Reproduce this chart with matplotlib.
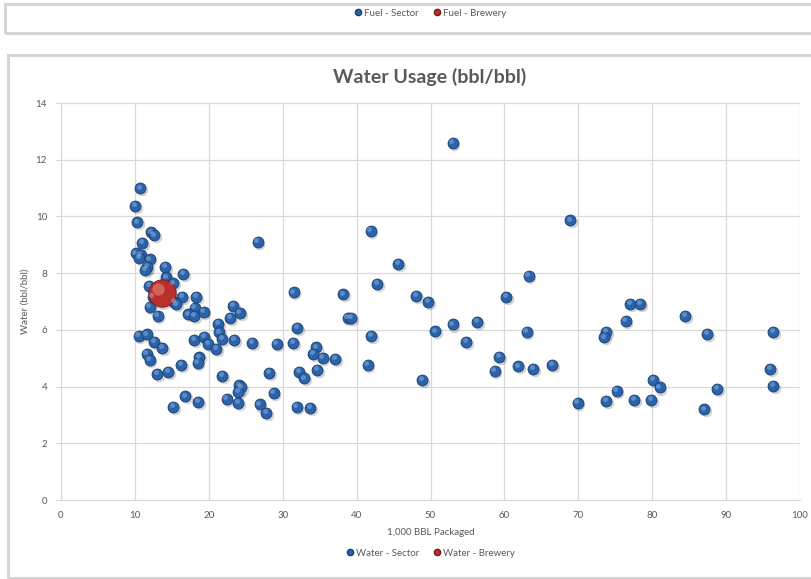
import matplotlib
matplotlib.use('Agg')
import matplotlib.pyplot as plt
from matplotlib.lines import Line2D
from matplotlib.patches import Rectangle
from matplotlib.transforms import offset_copy

plt.rcParams['font.family'] = ['Lato', 'DejaVu Sans']

# Water - Sector points (1,000 BBL packaged, bbl/bbl)
sector_x = [10.7, 10.0, 10.3, 12.2, 12.6, 11.0, 10.1, 10.8, 10.6, 12.0,
            11.7, 11.4, 14.1, 16.5, 14.2, 15.2, 11.9, 16.4, 18.3, 15.3,
            15.6, 12.0, 18.1, 23.3, 24.2, 17.2, 18.0, 19.3, 13.1, 22.9,
            21.3, 26.6, 12.4, 21.4, 21.8, 10.5, 11.6, 12.6, 13.7, 18.0,
            19.4, 19.9, 21.0, 23.4, 25.9, 11.6, 12.0, 16.3, 18.7, 18.5,
            13.0, 14.5, 21.8, 24.1, 24.4, 24.0, 16.8, 15.2, 18.6, 22.4,
            24.0, 26.9, 29.2, 31.4, 32.0, 38.8, 39.3, 42.0, 34.5, 34.1,
            35.4, 37.1, 41.5, 32.2, 32.9, 34.7, 28.2, 28.8, 27.8, 31.9,
            33.7, 31.5, 41.9, 42.8, 45.6, 38.2, 53.0, 68.9, 48.1, 49.7,
            63.3, 60.2, 50.6, 53.0, 56.3, 63.0, 54.8, 59.3, 58.7, 48.9,
            61.9, 63.9, 66.5, 69.9, 77.0, 78.4, 76.4, 84.5, 73.8, 73.5,
            87.4, 96.4, 96.0, 96.4, 80.1, 81.0, 88.8, 75.2, 73.8, 77.6,
            79.9, 87.0]
sector_y = [10.99, 10.38, 9.79, 9.44, 9.34, 9.07, 8.70, 8.64, 8.54, 8.49,
            8.23, 8.11, 8.23, 7.98, 7.85, 7.64, 7.55, 7.17, 7.17, 6.99,
            6.90, 6.82, 6.78, 6.85, 6.60, 6.55, 6.49, 6.64, 6.50, 6.43,
            6.21, 9.11, 7.17, 5.91, 5.68, 5.79, 5.84, 5.58, 5.37, 5.64,
            5.76, 5.51, 5.32, 5.64, 5.55, 5.15, 4.94, 4.76, 5.03, 4.84,
            4.44, 4.51, 4.37, 4.05, 3.97, 3.82, 3.66, 3.28, 3.47, 3.56,
            3.42, 3.37, 5.51, 5.55, 6.08, 6.43, 6.43, 5.79, 5.38, 5.15,
            5.01, 4.97, 4.76, 4.52, 4.29, 4.58, 4.49, 3.77, 3.07, 3.28,
            3.24, 7.33, 9.49, 7.62, 8.34, 7.25, 12.60, 9.86, 7.20, 6.98,
            7.91, 7.17, 5.95, 6.19, 6.29, 5.92, 5.57, 5.04, 4.55, 4.23,
            4.72, 4.62, 4.76, 3.42, 6.91, 6.91, 6.31, 6.49, 5.93, 5.74,
            5.85, 5.93, 4.62, 4.02, 4.23, 3.97, 3.91, 3.85, 3.49, 3.53,
            3.53, 3.20]

# Water - Brewery point
brewery_x = [13.6]
brewery_y = [7.29]

x_ticks = [0, 10, 20, 30, 40, 50, 60, 70, 80, 90, 100]
y_ticks = [0, 2, 4, 6, 8, 10, 12, 14]

blue = '#2B63AA'
red = '#B8302B'
grey_txt = '#595959'
grid_c = '#D9D9D9'

W, H = 811, 579
fig = plt.figure(figsize=(W / 100, H / 100), dpi=100)
fig.patch.set_facecolor('white')

# panel frames (previous chart bottom + this chart)
fig.add_artist(Rectangle((5 / W, 1 - 33 / H), 1.0, 29 / H, transform=fig.transFigure,
                         fill=False, edgecolor='#D4D4D4', lw=2.2))
fig.add_artist(Rectangle((8 / W, 1 - 578 / H), 1.0, 523 / H, transform=fig.transFigure,
                         fill=False, edgecolor='#D4D4D4', lw=2.2))

ax = fig.add_axes([61 / W, 1 - 500 / H, 739 / W, 397 / H])


def spheres(x, y, s, base, dark, light):
    # soft shadow, body, highlight -> rough 3D bead look
    sh = offset_copy(ax.transData, fig=fig, x=1.2, y=-1.5, units='points')
    ax.scatter(x, y, s=s * 1.1, color='#000000', alpha=0.18, lw=0, transform=sh, zorder=3)
    ax.scatter(x, y, s=s, color=base, edgecolors=dark, linewidths=0.6, zorder=4)
    hl = offset_copy(ax.transData, fig=fig, x=-0.25 * (s ** 0.5) / 2, y=0.3 * (s ** 0.5) / 2, units='points')
    ax.scatter(x, y, s=s * 0.2, color=light, alpha=0.45, lw=0, transform=hl, zorder=5)


spheres(sector_x, sector_y, 62, blue, '#1A3F70', '#9CC0EE')
spheres(brewery_x, brewery_y, 390, red, '#7A1A17', '#F0A09A')

ax.set_xlim(0, 100)
ax.set_ylim(0, 14)
ax.set_xticks(x_ticks)
ax.set_yticks(y_ticks)
ax.grid(True, color=grid_c, lw=0.9)
ax.set_axisbelow(True)
for side in ['top', 'right']:
    ax.spines[side].set_visible(False)
for side in ['left', 'bottom']:
    ax.spines[side].set_color(grid_c)
ax.tick_params(colors=grey_txt, labelsize=7, length=0, pad=8)
ax.tick_params(axis='y', length=4, color=grid_c, pad=6)

ax.set_xlabel('1,000 BBL Packaged', fontsize=7, color=grey_txt, labelpad=6)
ax.set_ylabel('Water (bbl/bbl)', fontsize=7, color=grey_txt)
ax.yaxis.set_label_coords(-0.042, 0.5)

fig.text(430 / W, 1 - 77 / H, 'Water Usage (bbl/bbl)', ha='center', va='center',
         fontsize=14, fontweight='bold', color=grey_txt)


def legend_handles(names):
    return [Line2D([], [], ls='none', marker='o', ms=4.5, color=blue, mec='#1A3F70', label=names[0]),
            Line2D([], [], ls='none', marker='o', ms=4.5, color=red, mec='#7A1A17', label=names[1])]


for names, ypix in [(['Fuel - Sector', 'Fuel - Brewery'], 13),
                    (['Water - Sector', 'Water - Brewery'], 553)]:
    leg = fig.legend(handles=legend_handles(names), loc='center', ncol=2,
                     bbox_to_anchor=(430 / W, 1 - ypix / H), frameon=False,
                     fontsize=7, handletextpad=0.1, columnspacing=1.4,
                     handlelength=1.0, labelcolor=grey_txt)

fig.savefig('out.png', dpi=100, facecolor='white')
